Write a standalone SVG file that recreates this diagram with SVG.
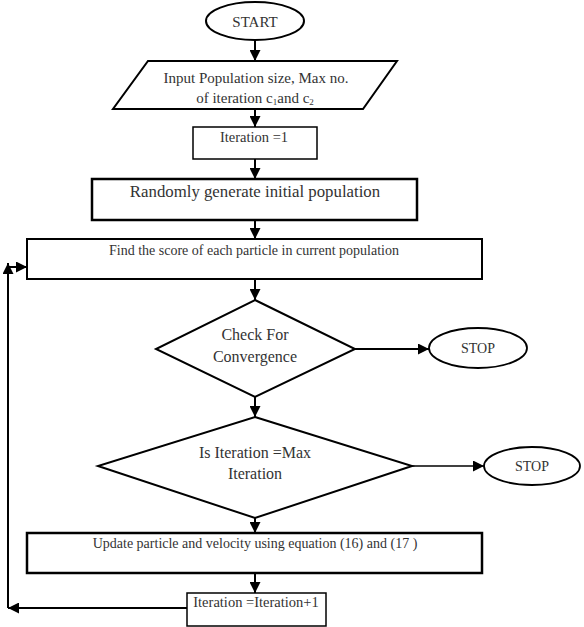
<svg xmlns="http://www.w3.org/2000/svg" width="584" height="627" viewBox="0 0 584 627">
<style>
  .s { fill: #fff; stroke: #000; stroke-width: 2; }
  .t { font-family: "Liberation Serif", "Times New Roman", serif; fill: #333; text-anchor: middle; }
  .c { fill: none; stroke: #000; stroke-width: 2; marker-end: url(#ah); }
</style>
<defs>
  <marker id="ah" markerUnits="userSpaceOnUse" markerWidth="11" markerHeight="11" refX="11" refY="5.5" orient="auto">
    <path d="M0,0 L11,5.5 L0,11 z" fill="#000"/>
  </marker>
</defs>
<rect width="584" height="627" fill="#fff"/>
<g id="connectors">
  <path class="c" d="M255,40 V61"/>
  <path class="c" d="M255,109 V127"/>
  <path class="c" d="M255,159 V179"/>
  <path class="c" d="M255,220 V239"/>
  <path class="c" d="M255,279 V300"/>
  <path class="c" d="M255,397 V417"/>
  <path class="c" d="M255,518 V533"/>
  <path class="c" d="M255,573 V593"/>
  <path class="c" d="M355,349 H429"/>
  <path class="c" d="M412,466 H484" style="stroke-width:1.5"/>
  <path class="c" d="M187,608 H8"/>
  <path class="c" d="M8,608 V263"/>
  <path class="c" d="M8,267 H27"/>
</g>
<g id="start">
  <ellipse class="s" cx="255" cy="21" rx="49" ry="19"/>
  <text class="t" x="255" y="27" font-size="15">START</text>
</g>
<g id="input">
  <polygon class="s" points="148,61 397,61 363,109 113,109"/>
  <text class="t" x="256" y="83" font-size="15">Input Population size, Max no.</text>
  <text class="t" x="255" y="103" font-size="15">of iteration c<tspan font-size="9" dy="2">1</tspan><tspan dy="-2">and c</tspan><tspan font-size="9" dy="2">2</tspan></text>
</g>
<g id="iter1">
  <rect class="s" x="193" y="127" width="124" height="32" style="stroke-width:1.5"/>
  <text class="t" x="254" y="142" font-size="14.5">Iteration =1</text>
</g>
<g id="random">
  <rect class="s" x="92" y="179" width="325" height="41" style="stroke-width:2.5"/>
  <text class="t" x="255" y="197" font-size="16.8">Randomly generate initial population</text>
</g>
<g id="find">
  <rect class="s" x="27" y="239" width="455" height="40"/>
  <text class="t" x="254" y="255" font-size="14">Find the score of each particle in current population</text>
</g>
<g id="converge">
  <polygon class="s" points="255,300 355,349 255,397 156,349"/>
  <text class="t" x="255" y="340" font-size="16">Check For</text>
  <text class="t" x="255" y="362" font-size="16">Convergence</text>
</g>
<g id="stop1">
  <ellipse class="s" cx="478" cy="348" rx="49" ry="20" style="stroke-width:1.8"/>
  <text class="t" x="478" y="353" font-size="14">STOP</text>
</g>
<g id="maxiter">
  <polygon class="s" points="255,417 412,466 255,518 98,466"/>
  <text class="t" x="255" y="458" font-size="16">Is Iteration =Max</text>
  <text class="t" x="255" y="479" font-size="16">Iteration</text>
</g>
<g id="stop2">
  <ellipse class="s" cx="532" cy="466" rx="48" ry="19" style="stroke-width:1.8"/>
  <text class="t" x="532" y="471" font-size="14">STOP</text>
</g>
<g id="update">
  <rect class="s" x="27" y="533" width="455" height="40" style="stroke-width:2.5"/>
  <text class="t" x="255" y="548" font-size="14">Update particle and velocity using equation (16) and (17 )</text>
</g>
<g id="iterinc">
  <rect class="s" x="187" y="593" width="139" height="33" style="stroke-width:1.5"/>
  <text class="t" x="256" y="607" font-size="14.5">Iteration =Iteration+1</text>
</g>
</svg>
